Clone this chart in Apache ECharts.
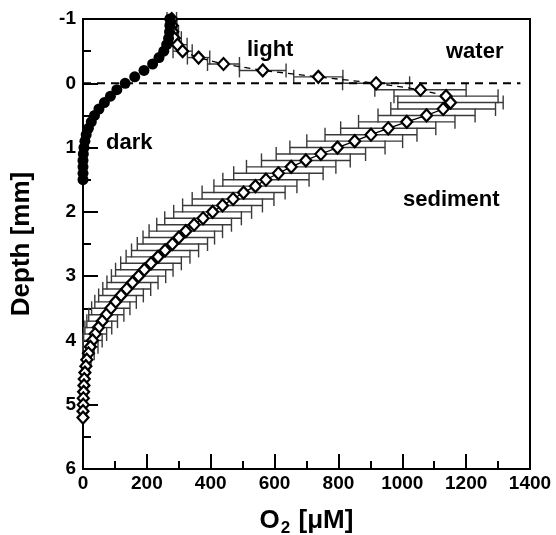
<!DOCTYPE html>
<html>
<head>
<meta charset="utf-8">
<script src="https://cdn.jsdelivr.net/npm/echarts@6/dist/echarts.min.js"></script>
<style>html,body{margin:0;padding:0;background:#fff}#c{width:556px;height:535px}</style>
</head>
<body>
<div id="c"></div>
<script>
// ---- data ----
var darkDepth = [-1.0,-0.9,-0.8,-0.7,-0.6,-0.5,-0.4,-0.3,-0.2,-0.1,0.0,0.1,0.2,0.3,0.4,0.5,0.6,0.7,0.8,0.9,1.0,1.1,1.2,1.3,1.4,1.5];
var darkO2    = [272,272,271,268,262,253,238,218,191,162,132,106,86,67,50,36,26,17,10,6,3,1,0,0,0,0];

var lightDepth = [-1.0,-0.9,-0.8,-0.7,-0.6,-0.5,-0.4,-0.3,-0.2,-0.1,0.0,0.1,0.2,0.3,0.4,0.5,0.6,0.7,0.8,0.9,1.0,1.1,1.2,1.3,1.4,1.5,1.6,1.7,1.8,1.9,2.0,2.1,2.2,2.3,2.4,2.5,2.6,2.7,2.8,2.9,3.0,3.1,3.2,3.3,3.4,3.5,3.6,3.7,3.8,3.9,4.0,4.1,4.2,4.3,4.4,4.5,4.6,4.7,4.8,4.9,5.0,5.1,5.2];
var lightO2 = [278,279,281,286,296,312,362,440,563,737,918,1057,1137,1151,1128,1076,1014,956,902,851,797,745,698,652,612,573,540,503,470,437,406,376,348,322,300,280,257,235,213,192,174,155,137,119,102,87,73,60,48,38,30,23,17,12,9,6,4,3,2,1,1,0,0];
var lightErr = [15,15,18,22,30,30,35,50,73,77,105,143,163,165,164,152,151,149,144,150,149,140,139,140,140,135,130,130,128,125,122,120,117,115,112,110,105,100,95,90,85,80,75,70,65,60,55,48,42,36,30,24,18,13,9,6,0,0,0,0,0,0,0];
var waterEndDepth = 0.2; // dashed connection above this depth, solid below
var interfaceDepth = 0;  // sediment-water interface (dashed reference line)

var xTicks = [0,200,400,600,800,1000,1200,1400];
var yTicks = [-1,0,1,2,3,4,5,6];

// ---- build series data ----
var darkData = darkDepth.map(function(d,i){return [darkO2[i], d];});
var waterLine = [], sedLine = [], lightPts = [], errData = [];
lightDepth.forEach(function(d,i){
  var p = [lightO2[i], d];
  lightPts.push(p);
  if (d <= waterEndDepth + 1e-9) waterLine.push(p);
  if (d >= waterEndDepth - 1e-9) sedLine.push(p);
  if (lightErr[i] > 0) errData.push([lightO2[i]-lightErr[i], lightO2[i]+lightErr[i], d]);
});
var xMin = xTicks[0], xMax = xTicks[xTicks.length-1];
var interfaceLine = [[xMin, interfaceDepth], [xMax - 30, interfaceDepth]];

var FONT = 'Liberation Sans, Arial, sans-serif';
var chart = echarts.init(document.getElementById('c'), null, {renderer:'canvas'});
chart.setOption({
  animation: false,
  backgroundColor: '#fff',
  grid: {left: 83, right: 26, top: 19, bottom: 66, show: true, borderColor: '#000', borderWidth: 2,
         containLabel: false, outerBoundsMode: 'none'},
  xAxis: {
    type: 'value', min: xMin, max: xMax, interval: 200, position: 'bottom',
    axisLine: {show: true, onZero: false, lineStyle: {color: '#000', width: 2}},
    axisTick: {show: true, inside: true, length: 15, lineStyle: {color: '#000', width: 2}},
    minorTick: {show: true, splitNumber: 2, length: 8, lineStyle: {color: '#000', width: 2}},
    splitLine: {show: false},
    axisLabel: {margin: 5, color: '#000', fontFamily: FONT, fontWeight: 'bold', fontSize: 19,
                formatter: function(v){ return String(v); }},
    name: '{a|O}{s|2}{a| [μM]}', nameLocation: 'middle', nameGap: 37,
    nameTextStyle: {rich: {
      a: {fontFamily: FONT, fontWeight: 'bold', fontSize: 26, color: '#000', lineHeight: 30},
      s: {fontFamily: FONT, fontWeight: 'bold', fontSize: 17, color: '#000', lineHeight: 30, padding: [14,1,0,1]}
    }}
  },
  yAxis: {
    type: 'value', min: yTicks[0], max: yTicks[yTicks.length-1], interval: 1, inverse: true, position: 'left',
    axisLine: {show: true, onZero: false, lineStyle: {color: '#000', width: 2}},
    axisTick: {show: true, inside: true, length: 15, lineStyle: {color: '#000', width: 2}},
    minorTick: {show: true, splitNumber: 2, length: 8, lineStyle: {color: '#000', width: 2}},
    splitLine: {show: false},
    axisLabel: {margin: 7, color: '#000', fontFamily: FONT, fontWeight: 'bold', fontSize: 19,
                formatter: function(v){ return String(v); }},
    name: 'Depth [mm]', nameLocation: 'middle', nameGap: 48, nameRotate: 90,
    nameTextStyle: {fontFamily: FONT, fontWeight: 'bold', fontSize: 26, color: '#000'}
  },
  series: [
    {
      type: 'line', name: 'interface', z: 1, data: interfaceLine, showSymbol: false, symbol: 'none',
      lineStyle: {color: '#000', width: 2, type: [8, 6]}
    },
    {
      type: 'custom', name: 'err', z: 1,
      encode: {x: [0,1], y: 2},
      data: errData,
      renderItem: function(params, api){
        var d = api.value(2);
        var a = api.coord([api.value(0), d]);
        var b = api.coord([api.value(1), d]);
        var h = 7;
        var st = {stroke: '#3a3a3a', lineWidth: 1.4};
        return {type: 'group', children: [
          {type: 'line', shape: {x1: a[0], y1: a[1], x2: b[0], y2: b[1]}, style: st},
          {type: 'line', shape: {x1: a[0], y1: a[1]-h, x2: a[0], y2: a[1]+h}, style: st},
          {type: 'line', shape: {x1: b[0], y1: b[1]-h, x2: b[0], y2: b[1]+h}, style: st}
        ]};
      }
    },
    {
      type: 'line', name: 'water', z: 2, data: waterLine, showSymbol: false, symbol: 'none',
      lineStyle: {color: '#000', width: 1.3, type: [6, 5]}
    },
    {
      type: 'line', name: 'sediment', z: 2, data: sedLine, showSymbol: false, symbol: 'none',
      lineStyle: {color: '#000', width: 1.3}
    },
    {
      type: 'scatter', name: 'light', z: 3, data: lightPts, symbol: 'diamond', symbolSize: [11,12],
      itemStyle: {color: '#fff', borderColor: '#000', borderWidth: 2.2, opacity: 1}
    },
    {
      type: 'scatter', name: 'dark', z: 4, data: darkData, symbol: 'circle', symbolSize: 11,
      itemStyle: {color: '#000', opacity: 1}
    }
  ],
  graphic: [
    {type: 'text', left: 247, top: 39, style: {text: 'light', font: 'bold 22px ' + FONT, fill: '#000'}},
    {type: 'text', left: 446, top: 41, style: {text: 'water', font: 'bold 22px ' + FONT, fill: '#000'}},
    {type: 'text', left: 106, top: 132, style: {text: 'dark', font: 'bold 22px ' + FONT, fill: '#000'}},
    {type: 'text', left: 403, top: 189, style: {text: 'sediment', font: 'bold 22px ' + FONT, fill: '#000'}}
  ]
});
</script>
</body>
</html>
